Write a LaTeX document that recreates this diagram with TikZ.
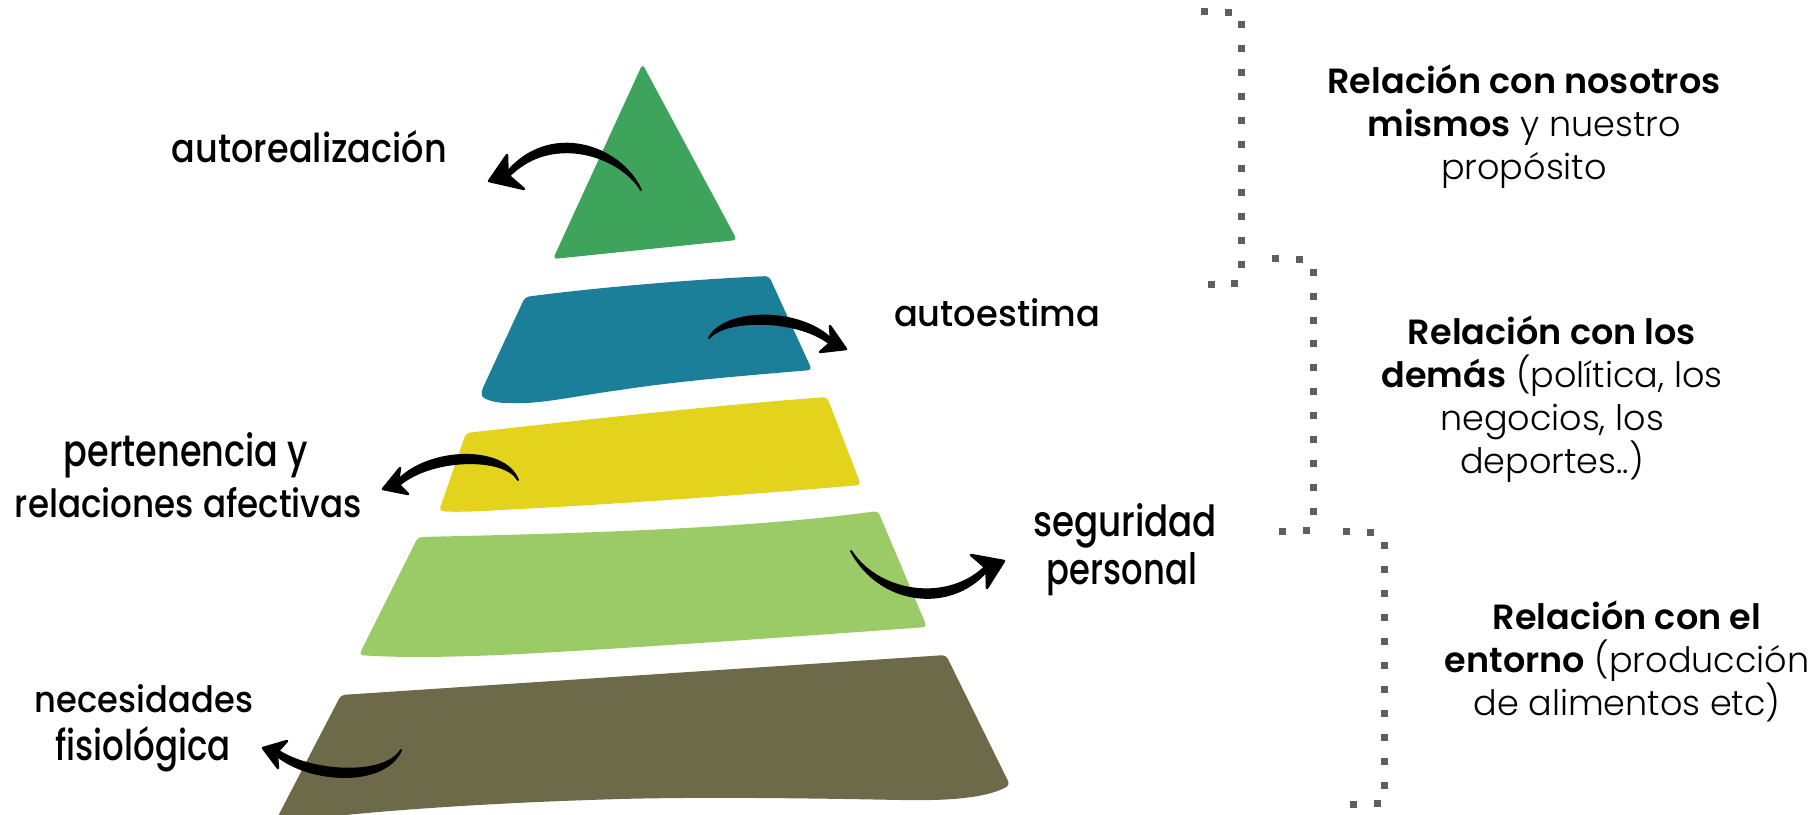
\documentclass[tikz,border=0pt]{standalone}
\usepackage{fontspec}
\usepackage{graphicx}
\usetikzlibrary{calc}
\setmainfont{Poppins}[UprightFont=* Light,BoldFont=* SemiBold]
\newfontfamily\handfont{Poppins Medium}
\definecolor{cgreen}{HTML}{3FA45B}
\definecolor{cteal}{HTML}{1B7F99}
\definecolor{cyellow}{HTML}{E3D31D}
\definecolor{clight}{HTML}{9ACB66}
\definecolor{colive}{HTML}{6C6A48}
\definecolor{dotgray}{HTML}{5F5F5F}
\tikzset{
  handlabel/.style={inner sep=0pt,outer sep=0pt,text=black},
  bodylabel/.style={inner sep=0pt,outer sep=0pt,align=center,text=black,font=\fontsize{35}{43}\selectfont},
  layer/.style={rounded corners=4pt}
}
\newcommand\hand[6]{\node[handlabel] (#1) at (#2,#3) {\resizebox{#4pt}{#5pt}{\handfont #6}};}
\newcommand\dotm[2]{\fill[dotgray] ({#1-3.5},{#2-3.5}) rectangle ++(7,7);}
\newcommand\brusharrow[8]{%
  \coordinate (#1s) at (#2);
  \coordinate (#1t) at (#5);
  \coordinate (#1a) at (#7);
  \coordinate (#1b) at (#8);
  \coordinate (#1m) at ($(#1a)!0.5!(#1b)$);
  \coordinate (#1k) at ($(#1t)!0.7!(#1m)$);
  \filldraw[black,line width=2pt,line join=round] (#1s) .. controls ($(#3)+(0,-#6)$) and ($(#4)+(0,-#6)$) .. ($(#1k)+(0,-3)$)
     -- ($(#1k)+(0,3)$) .. controls ($(#4)+(0,#6)$) and ($(#3)+(0,#6)$) .. (#1s) -- cycle;
  \filldraw[black,line width=2.5pt,line join=round] (#1a) -- (#1t) -- (#1b) -- (#1k) -- cycle;
}
\begin{document}
\begin{tikzpicture}[x=1pt,y=-1pt]
\useasboundingbox (0,0) rectangle (1820,814);
% pyramid
\fill[cgreen,layer] (642.5,64) -- (737,240) -- (553,259) -- cycle;
\fill[cteal,layer] (525,297) .. controls (600,287) and (700,279) .. (769,276)
   -- (812,370) .. controls (740,376) and (680,381) .. (620,390)
   .. controls (570,397) and (540,404) .. (510,403) .. controls (495,403) and (483,399) .. (481,392) -- cycle;
\fill[cyellow,layer] (466,433) .. controls (600,418) and (720,405) .. (827,397)
   -- (861,485) .. controls (720,497) and (600,505) .. (500,510) .. controls (470,512) and (450,512) .. (439,511) -- cycle;
\fill[clight,layer] (418,537) .. controls (600,533) and (750,528) .. (878,511)
   -- (927,627) .. controls (750,640) and (600,650) .. (500,655) .. controls (450,657) and (400,658) .. (359,655) -- cycle;
\fill[colive,layer] (341,695) -- (946,655) -- (1010,785)
   .. controls (990,796) and (960,801) .. (900,800) .. controls (800,798) and (700,797) .. (620,799)
   .. controls (520,802) and (400,808) .. (300,820) -- (276,820) -- cycle;
% arrows
\brusharrow{ar}{641,190}{620,150}{550,127}{489,181}{5}{507,155}{524,189}
\brusharrow{br}{709,338}{725,313}{800,313}{846,349}{5}{830,326}{820,352}
\brusharrow{cr}{518,480}{505,451}{430,452}{383,489}{5}{400,468}{408,494}
\brusharrow{dr}{851,551}{880,600}{950,608}{1004,561}{5}{971,555}{987,588}
\brusharrow{er}{401,750}{385,782}{310,778}{263,748}{5}{287,741}{278,768}
% hand labels
\hand{l1}{309.5}{146.5}{275}{32}{autorealización}
\hand{l2}{186}{455}{244}{34}{pertenencia y}
\hand{l3}{188.5}{503}{347}{30}{relaciones afectivas}
\hand{l4}{144}{699}{218}{28}{necesidades}
\hand{l5}{143}{749}{175}{34}{fisiológica}
\hand{l6}{997}{313}{206}{28}{autoestima}
\hand{l7}{1125}{526}{184}{33}{seguridad}
\hand{l8}{1122}{574}{150}{32}{personal}
% right texts
\node[bodylabel] (t1) at (1524,127) {\textbf{Relación con nosotros}\\\textbf{mismos} y nuestro\\propósito};
\node[bodylabel] (t2) at (1552,399) {\textbf{Relación con los}\\\textbf{demás} (política, los\\negocios, los\\deportes..)};
\node[bodylabel] (t3) at (1627,661) {\textbf{Relación con el}\\\textbf{entorno} (producción\\de alimentos etc)};
% dotted brackets
\dotm{1204}{11}\dotm{1228}{12}
\foreach \y in {24,48,72,96,120,144,168,192,216,240,264} {\dotm{1241}{\y}}
\dotm{1234}{283}\dotm{1211}{284}
\dotm{1275}{258}\dotm{1299}{259}
\foreach \y in {272,296,320,343,367,391,415,439,463,487,511} {\dotm{1313}{\y}}
\dotm{1306}{530}\dotm{1282}{531}
\dotm{1346}{531}\dotm{1370}{532}
\foreach \y in {545,569,593,617,641,665,689,713,737,761,785} {\dotm{1384}{\y}}
\dotm{1377}{803}\dotm{1353}{804}
\end{tikzpicture}
\end{document}
